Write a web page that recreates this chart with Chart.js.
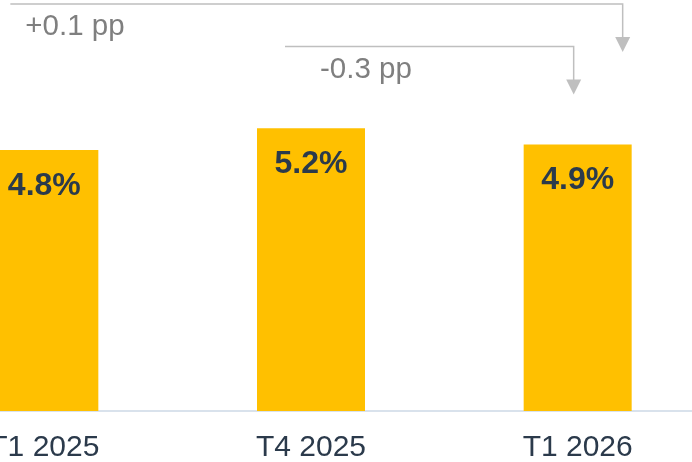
<!DOCTYPE html>
<html>
<head>
<meta charset="utf-8">
<script src="https://cdn.jsdelivr.net/npm/chart.js@4/dist/chart.umd.min.js"></script>
<style>
  html, body { margin: 0; padding: 0; background: #fff; overflow: hidden; }
  #wrap { position: relative; width: 692px; height: 462px; overflow: hidden; }
  #chart { position: absolute; left: -89px; top: 0; }
</style>
</head>
<body>
<div id="wrap"><canvas id="chart" width="800" height="462"></canvas></div>
<script>
const categories = ['T1 2025', 'T4 2025', 'T1 2026'];
const rates = [4.8, 5.2, 4.9];
const changeLabels = ['+0.1 pp', '-0.3 pp'];

// bracket arrows between bars: from category, to category
const brackets = [
  { from: 0, to: 2, text: changeLabels[0], level: 0 },
  { from: 1, to: 2, text: changeLabels[1], level: 1 }
];

const barLabels = {
  id: 'barLabels',
  afterDatasetsDraw(chart) {
    const ctx = chart.ctx;
    const meta = chart.getDatasetMeta(0);
    ctx.save();
    ctx.font = 'bold 32px "Liberation Sans", Arial, sans-serif';
    ctx.fillStyle = '#2b3a4b';
    ctx.textAlign = 'center';
    ctx.textBaseline = 'middle';
    meta.data.forEach((bar, i) => {
      ctx.fillText(rates[i].toFixed(1) + '%', bar.x, bar.y + 36);
    });
    ctx.restore();
  }
};

const bracketArrows = {
  id: 'bracketArrows',
  afterDraw(chart) {
    const ctx = chart.ctx;
    const x = chart.scales.x;
    const top = chart.chartArea.top;
    ctx.save();
    ctx.strokeStyle = '#bfbfbf';
    ctx.lineWidth = 1.5;
    brackets.forEach(b => {
      const y = top + 4 + b.level * 42.5;
      const x0 = x.getPixelForValue(b.from) - (b.level ? 26 : 34);
      const x1 = x.getPixelForValue(b.to) + (b.level ? -4 : 45);
      const tip = y + 48;
      ctx.beginPath();
      ctx.moveTo(x0, y);
      ctx.lineTo(x1, y);
      ctx.lineTo(x1, tip - 14);
      ctx.stroke();
      ctx.fillStyle = '#bfbfbf';
      ctx.beginPath();
      ctx.moveTo(x1 - 7.5, tip - 15);
      ctx.lineTo(x1 + 7.5, tip - 15);
      ctx.lineTo(x1, tip);
      ctx.closePath();
      ctx.fill();
      ctx.font = '29.5px "Liberation Sans", Arial, sans-serif';
      ctx.fillStyle = '#7f7f7f';
      ctx.textAlign = 'left';
      ctx.textBaseline = 'middle';
      ctx.fillText(b.text, x0 + (b.level ? 35 : 15), y + 23);
    });
    ctx.restore();
  }
};

new Chart(document.getElementById('chart'), {
  type: 'bar',
  data: {
    labels: categories,
    datasets: [{
      data: rates,
      backgroundColor: '#ffc000',
      borderWidth: 0,
      categoryPercentage: 1,
      barPercentage: 0.405
    }]
  },
  options: {
    responsive: false,
    animation: false,
    devicePixelRatio: 1,
    layout: { padding: { top: 0, bottom: -15, left: 0, right: 0 } },
    plugins: { legend: { display: false }, tooltip: { enabled: false } },
    scales: {
      x: {
        grid: { display: false },
        border: { display: true, color: '#d9e2ec', width: 2 },
        ticks: {
          color: '#2b3a4b',
          padding: 14,
          font: { family: '"Liberation Sans", Arial, sans-serif', size: 30, lineHeight: 1.0 }
        }
      },
      y: {
        display: false,
        min: 0,
        max: 7.56
      }
    }
  },
  plugins: [barLabels, bracketArrows]
});
</script>
</body>
</html>
